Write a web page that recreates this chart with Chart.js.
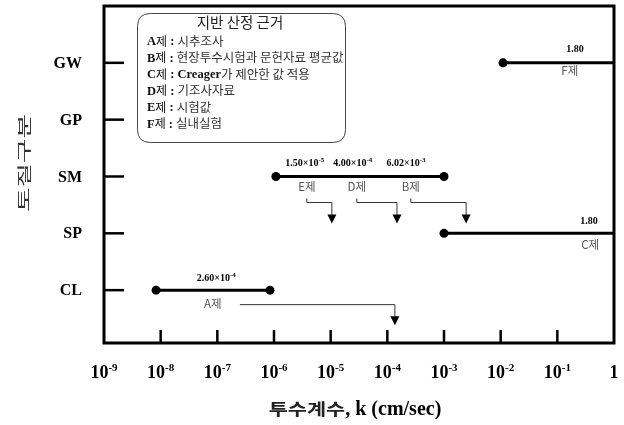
<!DOCTYPE html>
<html>
<head>
<meta charset="utf-8">
<script src="https://cdn.jsdelivr.net/npm/chart.js@4"></script>
<style>
html,body{margin:0;padding:0;background:#fff;}
#c{display:block;}
</style>
</head>
<body>
<canvas id="c" width="624" height="425"></canvas>
<script>
// ---- data ----
const categories = ['CL', 'SP', 'SM', 'GP', 'GW'];        // y = 1..5
const kLow  = [8.3e-9, 1.0e-3, 1.08e-6, null, 1.1e-2];      // cm/sec
const kHigh = [8.5e-7, 1,      1.0e-3,  null, 1];
const xTickExponents = [-9, -8, -7, -6, -5, -4, -3, -2, -1, 0];
const legendKeys  = ['A', 'B', 'C', 'D', 'E', 'F'];
const legendTexts = ['시추조사', '현장투수시험과 문헌자료 평균값', 'Creager가 제안한 값 적용', '기조사자료', '시험값', '실내실험'];
const smValueMant = ['1.50', '4.00', '6.02'];
const smValueExp  = [-5, -4, -3];
const smMethods   = ['E제', 'D제', 'B제'];
const clValueMant = '2.60', clValueExp = -4, clMethod = 'A제';
const gwValue = '1.80', gwMethod = 'F제';
const spValue = '1.80', spMethod = 'C제';

// ---- annotation layout (data x, pixel offsets) ----
const smLabelX  = [3.5e-6, 2.45e-5, 2.14e-4];
const smMethodX = [3.8e-6, 2.9e-5, 2.6e-4];
const smArrowEnd = [1.05e-5, 1.48e-4, 2.46e-3];

const datasets = [];
categories.forEach((c, i) => {
  if (kLow[i] == null) return;
  const rightDot = kHigh[i] < 1 ? 4.5 : 0;
  datasets.push({
    label: c,
    data: [{x: kLow[i], y: i + 1}, {x: kHigh[i], y: i + 1}],
    showLine: true,
    borderColor: '#000',
    borderWidth: 3,
    pointRadius: [4.5, rightDot],
    pointBackgroundColor: '#000',
    pointBorderColor: '#000',
    pointBorderWidth: 0
  });
});

const SERIF = '"Liberation Serif", "Times New Roman", serif';
const SANS = '"Noto Sans CJK KR", "Noto Sans", sans-serif';

function drawSup(ctx, base, exp, cx, y, size, supSize, rise) {
  ctx.font = 'bold ' + size + 'px ' + SERIF;
  const wb = ctx.measureText(base).width;
  ctx.font = 'bold ' + supSize + 'px ' + SERIF;
  const we = exp === '' ? 0 : ctx.measureText(exp).width;
  const x0 = cx - (wb + we) / 2;
  ctx.textAlign = 'left';
  ctx.textBaseline = 'alphabetic';
  ctx.font = 'bold ' + size + 'px ' + SERIF;
  ctx.fillText(base, x0, y);
  if (exp !== '') {
    ctx.font = 'bold ' + supSize + 'px ' + SERIF;
    ctx.fillText(exp, x0 + wb, y - rise);
  }
}

function arrow(ctx, x1, y1, x2, y2, y3, startTick) {
  ctx.save();
  ctx.strokeStyle = '#333';
  ctx.lineWidth = 1;
  ctx.beginPath();
  if (startTick) { ctx.moveTo(x1, y1 - 4); ctx.lineTo(x1, y1); }
  else ctx.moveTo(x1, y1);
  ctx.lineTo(x2, y2);
  ctx.lineTo(x2, y3 - 8);
  ctx.stroke();
  ctx.fillStyle = '#000';
  ctx.beginPath();
  ctx.moveTo(x2 - 4.5, y3 - 9);
  ctx.lineTo(x2 + 4.5, y3 - 9);
  ctx.lineTo(x2, y3);
  ctx.closePath();
  ctx.fill();
  ctx.restore();
}

function roundRect(ctx, x, y, w, h, r) {
  ctx.beginPath();
  ctx.moveTo(x + r, y);
  ctx.lineTo(x + w - r, y);
  ctx.quadraticCurveTo(x + w, y, x + w, y + r);
  ctx.lineTo(x + w, y + h - r);
  ctx.quadraticCurveTo(x + w, y + h, x + w - r, y + h);
  ctx.lineTo(x + r, y + h);
  ctx.quadraticCurveTo(x, y + h, x, y + h - r);
  ctx.lineTo(x, y + r);
  ctx.quadraticCurveTo(x, y, x + r, y);
  ctx.closePath();
}

const decor = {
  id: 'decor',
  afterDraw(chart) {
    const ctx = chart.ctx;
    const xs = chart.scales.x, ys = chart.scales.y;
    const a = chart.chartArea;
    ctx.save();
    // frame
    ctx.strokeStyle = '#000';
    ctx.lineWidth = 3;
    ctx.strokeRect(a.left, a.top, a.right - a.left, a.bottom - a.top);
    // x ticks (inward)
    ctx.lineWidth = 2.5;
    xTickExponents.forEach(e => {
      const px = xs.getPixelForValue(Math.pow(10, e));
      if (e > -9 && e < 0) {
        ctx.beginPath(); ctx.moveTo(px, a.bottom); ctx.lineTo(px, a.bottom - 13); ctx.stroke();
      }
    });
    // y ticks (inward)
    categories.forEach((c, i) => {
      const py = ys.getPixelForValue(i + 1);
      ctx.beginPath(); ctx.moveTo(a.left, py); ctx.lineTo(a.left + 20, py); ctx.stroke();
    });
    // x tick labels
    ctx.fillStyle = '#000';
    xTickExponents.forEach(e => {
      const px = xs.getPixelForValue(Math.pow(10, e));
      if (e === 0) drawSup(ctx, '1', '', px, 378, 18, 11, 7);
      else drawSup(ctx, '10', String(e), px, 378, 18, 11, 7);
    });
    // y tick labels
    ctx.font = 'bold 16px ' + SERIF;
    ctx.textAlign = 'right';
    ctx.textBaseline = 'middle';
    categories.forEach((c, i) => {
      ctx.fillText(c, 82, ys.getPixelForValue(i + 1) + 1);
    });
    // x axis title
    ctx.textBaseline = 'alphabetic';
    ctx.textAlign = 'left';
    const t1 = '투수계수', t2 = ', k (cm/sec)';
    const kScale = 1.3;
    ctx.font = 'bold 16px ' + SANS;
    const w1 = ctx.measureText(t1).width * kScale;
    ctx.font = 'bold 20px ' + SERIF;
    const w2 = ctx.measureText(t2).width;
    const tx = 355 - (w1 + w2) / 2;
    ctx.save();
    ctx.translate(tx, 415);
    ctx.scale(kScale, 1);
    ctx.font = 'bold 16px ' + SANS;
    ctx.fillStyle = '#222';
    ctx.fillText(t1, 0, 0);
    ctx.restore();
    ctx.font = 'bold 20px ' + SERIF;
    ctx.fillStyle = '#000';
    ctx.fillText(t2, tx + w1, 415);

    // y axis title (stretched along reading direction)
    ctx.save();
    ctx.translate(24, 163);
    ctx.rotate(-Math.PI / 2);
    ctx.scale(1.9, 1);
    ctx.font = '14px ' + SANS;
    ctx.fillStyle = '#333';
    ctx.textAlign = 'center';
    ctx.textBaseline = 'middle';
    ctx.fillText('토질구분', 0, 0);
    ctx.restore();

    // legend box
    ctx.strokeStyle = '#444';
    ctx.lineWidth = 1;
    roundRect(ctx, 137.5, 13.5, 208, 129, 13);
    ctx.stroke();
    ctx.fillStyle = '#222';
    ctx.font = '14.5px ' + SANS;
    ctx.textAlign = 'center';
    ctx.textBaseline = 'middle';
    ctx.fillText('지반 산정 근거', 240, 22);
    legendKeys.forEach((k, i) => {
      const ly = 41 + i * 16.5;
      let x = 147;
      ctx.textAlign = 'left';
      ctx.textBaseline = 'middle';
      ctx.fillStyle = '#111';
      ctx.font = 'bold 12.5px ' + SERIF;
      ctx.fillText(k, x, ly + 1); x += ctx.measureText(k).width;
      ctx.font = '12px ' + SANS;
      ctx.fillText('제', x, ly); x += ctx.measureText('제').width;
      ctx.font = 'bold 12.5px ' + SERIF;
      ctx.fillText(' : ', x, ly + 1); x += ctx.measureText(' : ').width;
      let txt = legendTexts[i];
      if (txt.startsWith('Creager')) {
        ctx.font = 'bold 12.5px ' + SERIF;
        ctx.fillText('Creager', x, ly + 1); x += ctx.measureText('Creager').width;
        txt = txt.slice(7);
      }
      ctx.font = '12.5px ' + SANS;
      ctx.fillStyle = '#333';
      ctx.fillText(txt, x, ly);
    });

    // annotations
    ctx.fillStyle = '#000';
    const ySM = ys.getPixelForValue(3), yCL = ys.getPixelForValue(1);
    const yGW = ys.getPixelForValue(5), ySP = ys.getPixelForValue(2);
    smValueMant.forEach((m, i) => {
      drawSup(ctx, m + '×10', String(smValueExp[i]), xs.getPixelForValue(smLabelX[i]), ySM - 10, 10, 7, 4);
    });
    drawSup(ctx, clValueMant + '×10', String(clValueExp), xs.getPixelForValue(9.6e-8), yCL - 9, 10, 7, 4);
    drawSup(ctx, gwValue, '', xs.getPixelForValue(0.204), yGW - 11, 10, 7, 4);
    drawSup(ctx, spValue, '', xs.getPixelForValue(0.363), ySP - 9, 10, 7, 4);

    ctx.font = '11.5px ' + SANS;
    ctx.fillStyle = '#555';
    ctx.textAlign = 'center';
    ctx.textBaseline = 'middle';
    smMethods.forEach((m, i) => {
      ctx.fillText(m, xs.getPixelForValue(smMethodX[i]), ySM + 10);
    });
    ctx.fillText(clMethod, xs.getPixelForValue(8.3e-8), yCL + 13);
    ctx.fillText(gwMethod, xs.getPixelForValue(0.166), yGW + 8);
    ctx.fillText(spMethod, xs.getPixelForValue(0.38), ySP + 11);

    // arrows
    smMethods.forEach((m, i) => {
      const x1 = xs.getPixelForValue(smMethodX[i]);
      const x2 = xs.getPixelForValue(smArrowEnd[i]);
      arrow(ctx, x1, ySM + 26, x2, ySM + 26, ySM + 47, true);
    });
    arrow(ctx, xs.getPixelForValue(2.5e-7), yCL + 14.5, xs.getPixelForValue(1.36e-4), yCL + 14.5, yCL + 35, false);
    ctx.restore();
  }
};

new Chart(document.getElementById('c'), {
  type: 'scatter',
  data: { datasets },
  options: {
    responsive: false,
    animation: false,
    devicePixelRatio: 1,
    layout: { padding: { left: 104, right: 10, top: 6, bottom: 82 } },
    plugins: { legend: { display: false }, tooltip: { enabled: false } },
    scales: {
      x: {
        type: 'logarithmic', min: 1e-9, max: 1,
        ticks: { display: false }, grid: { display: false }, border: { display: false },
        afterFit: s => { s.height = 0; }
      },
      y: {
        type: 'linear', min: 0.07, max: 6,
        ticks: { display: false }, grid: { display: false }, border: { display: false },
        afterFit: s => { s.width = 0; }
      }
    }
  },
  plugins: [decor]
});
</script>
</body>
</html>
